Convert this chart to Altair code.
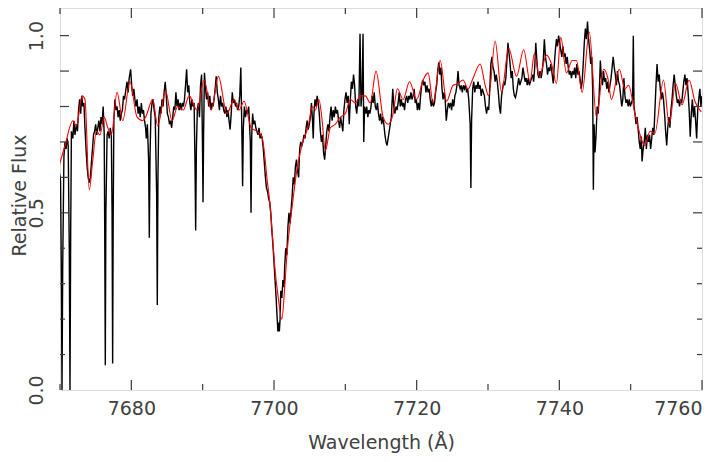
import altair as alt
import pandas as pd

# Observed spectrum (wavelength in Angstrom, relative flux)
obs_points = [
    (7669.8, 0.58), (7669.95, 0.61), (7670.08, 0.59), (7670.2, 0.30), (7670.28, 0.00), (7670.38, 0.35),
    (7670.55, 0.66), (7670.7, 0.70), (7670.85, 0.68), (7671.0, 0.71), (7671.15, 0.69), (7671.3, 0.40),
    (7671.4, 0.00), (7671.5, 0.45), (7671.6, 0.73), (7671.8, 0.71), (7671.95, 0.76), (7672.1, 0.72),
    (7672.3, 0.75), (7672.45, 0.73), (7672.6, 0.79), (7672.75, 0.82), (7672.9, 0.78), (7673.05, 0.83),
    (7673.2, 0.80), (7673.35, 0.81), (7673.5, 0.74), (7673.65, 0.68), (7673.8, 0.63), (7673.95, 0.60),
    (7674.1, 0.585), (7674.25, 0.60), (7674.4, 0.64), (7674.55, 0.68), (7674.7, 0.72), (7674.85, 0.73),
    (7675.0, 0.75), (7675.15, 0.72), (7675.3, 0.74), (7675.45, 0.76), (7675.6, 0.73), (7675.75, 0.77),
    (7675.9, 0.75), (7676.05, 0.80), (7676.2, 0.72), (7676.27, 0.45), (7676.35, 0.07), (7676.43, 0.50),
    (7676.6, 0.72), (7676.75, 0.73), (7676.9, 0.71), (7677.05, 0.74), (7677.2, 0.72), (7677.3, 0.50),
    (7677.38, 0.075), (7677.46, 0.50), (7677.55, 0.76), (7677.7, 0.82), (7677.85, 0.79), (7678.0, 0.80),
    (7678.15, 0.77), (7678.3, 0.79), (7678.45, 0.76), (7678.6, 0.78), (7678.75, 0.79), (7678.9, 0.83),
    (7679.05, 0.82), (7679.25, 0.85), (7679.4, 0.87), (7679.55, 0.84), (7679.7, 0.88), (7679.9, 0.905),
    (7680.05, 0.86), (7680.2, 0.83), (7680.35, 0.85), (7680.5, 0.82), (7680.65, 0.80), (7680.8, 0.82),
    (7680.95, 0.78), (7681.1, 0.80), (7681.25, 0.77), (7681.4, 0.81), (7681.55, 0.78), (7681.7, 0.79),
    (7681.85, 0.76), (7682.0, 0.74), (7682.1, 0.71), (7682.25, 0.75), (7682.42, 0.65), (7682.52, 0.43),
    (7682.62, 0.66), (7682.75, 0.78), (7682.9, 0.81), (7683.05, 0.82), (7683.2, 0.79), (7683.35, 0.77),
    (7683.55, 0.55), (7683.64, 0.24), (7683.73, 0.60), (7683.85, 0.77), (7684.0, 0.80), (7684.15, 0.78),
    (7684.3, 0.82), (7684.45, 0.80), (7684.6, 0.84), (7684.75, 0.87), (7684.9, 0.83), (7685.05, 0.78),
    (7685.2, 0.77), (7685.35, 0.75), (7685.5, 0.76), (7685.65, 0.74), (7685.8, 0.77), (7685.95, 0.80),
    (7686.1, 0.79), (7686.25, 0.84), (7686.4, 0.80), (7686.55, 0.82), (7686.7, 0.79), (7686.85, 0.81),
    (7687.0, 0.79), (7687.15, 0.81), (7687.3, 0.80), (7687.45, 0.82), (7687.6, 0.86), (7687.75, 0.905),
    (7687.9, 0.84), (7688.05, 0.86), (7688.2, 0.81), (7688.35, 0.79), (7688.5, 0.82), (7688.65, 0.80),
    (7688.8, 0.81), (7688.92, 0.65), (7689.02, 0.45), (7689.12, 0.68), (7689.25, 0.79), (7689.4, 0.81),
    (7689.55, 0.77), (7689.7, 0.86), (7689.85, 0.89), (7689.97, 0.70), (7690.05, 0.53), (7690.13, 0.72),
    (7690.25, 0.895), (7690.4, 0.85), (7690.55, 0.82), (7690.7, 0.84), (7690.85, 0.80), (7691.0, 0.83),
    (7691.15, 0.79), (7691.3, 0.81), (7691.45, 0.80), (7691.6, 0.82), (7691.75, 0.85), (7691.9, 0.885),
    (7692.05, 0.84), (7692.2, 0.82), (7692.35, 0.79), (7692.5, 0.83), (7692.65, 0.80), (7692.8, 0.81),
    (7692.95, 0.79), (7693.1, 0.78), (7693.25, 0.80), (7693.4, 0.77), (7693.55, 0.79), (7693.7, 0.76),
    (7693.85, 0.735), (7694.0, 0.78), (7694.15, 0.84), (7694.3, 0.81), (7694.45, 0.82), (7694.6, 0.80),
    (7694.75, 0.81), (7694.9, 0.79), (7695.05, 0.80), (7695.2, 0.83), (7695.35, 0.91), (7695.48, 0.75),
    (7695.6, 0.575), (7695.7, 0.74), (7695.85, 0.80), (7696.0, 0.77), (7696.15, 0.79), (7696.3, 0.78),
    (7696.45, 0.80), (7696.68, 0.70), (7696.78, 0.50), (7696.88, 0.72), (7697.0, 0.78), (7697.15, 0.75),
    (7697.3, 0.76), (7697.45, 0.74), (7697.6, 0.73), (7697.75, 0.72), (7697.9, 0.74), (7698.05, 0.71),
    (7698.2, 0.72), (7698.35, 0.71), (7698.5, 0.68), (7698.65, 0.64), (7698.8, 0.60), (7698.95, 0.57),
    (7699.1, 0.56), (7699.25, 0.54), (7699.4, 0.53), (7699.55, 0.50), (7699.7, 0.45), (7699.85, 0.41),
    (7700.0, 0.36), (7700.15, 0.31), (7700.3, 0.26), (7700.45, 0.20), (7700.55, 0.165), (7700.65, 0.19),
    (7700.75, 0.165), (7700.85, 0.20), (7700.95, 0.28), (7701.1, 0.26), (7701.25, 0.31), (7701.4, 0.29),
    (7701.5, 0.35), (7701.65, 0.40), (7701.8, 0.38), (7701.95, 0.46), (7702.1, 0.50), (7702.25, 0.47),
    (7702.4, 0.51), (7702.55, 0.55), (7702.7, 0.60), (7702.85, 0.58), (7703.0, 0.63), (7703.15, 0.65),
    (7703.3, 0.62), (7703.45, 0.60), (7703.6, 0.68), (7703.75, 0.70), (7703.9, 0.69), (7704.05, 0.70),
    (7704.2, 0.72), (7704.35, 0.71), (7704.5, 0.74), (7704.65, 0.76), (7704.8, 0.735), (7704.95, 0.75),
    (7705.1, 0.77), (7705.25, 0.81), (7705.4, 0.76), (7705.5, 0.71), (7705.6, 0.78), (7705.75, 0.82),
    (7705.9, 0.80), (7706.05, 0.83), (7706.2, 0.81), (7706.35, 0.78), (7706.5, 0.73), (7706.65, 0.70),
    (7706.8, 0.72), (7706.95, 0.67), (7707.1, 0.65), (7707.25, 0.69), (7707.4, 0.73), (7707.55, 0.75),
    (7707.7, 0.73), (7707.85, 0.77), (7708.0, 0.80), (7708.15, 0.76), (7708.3, 0.79), (7708.45, 0.77),
    (7708.6, 0.80), (7708.75, 0.78), (7708.9, 0.79), (7709.05, 0.76), (7709.2, 0.74), (7709.35, 0.77),
    (7709.5, 0.75), (7709.65, 0.73), (7709.8, 0.79), (7709.95, 0.82), (7710.1, 0.84), (7710.25, 0.81),
    (7710.4, 0.83), (7710.55, 0.75), (7710.7, 0.82), (7710.85, 0.87), (7711.0, 0.85), (7711.15, 0.89),
    (7711.3, 0.86), (7711.45, 0.80), (7711.6, 0.78), (7711.75, 0.82), (7711.9, 0.80), (7712.06, 1.005),
    (7712.2, 0.80), (7712.35, 0.84), (7712.48, 1.005), (7712.58, 0.70), (7712.7, 0.80), (7712.85, 0.78),
    (7713.0, 0.80), (7713.15, 0.77), (7713.3, 0.79), (7713.45, 0.78), (7713.6, 0.80), (7713.75, 0.83),
    (7713.9, 0.81), (7714.05, 0.84), (7714.2, 0.80), (7714.35, 0.79), (7714.5, 0.81), (7714.65, 0.78),
    (7714.8, 0.76), (7714.95, 0.78), (7715.1, 0.75), (7715.25, 0.77), (7715.4, 0.75), (7715.55, 0.72),
    (7715.7, 0.70), (7715.85, 0.69), (7716.0, 0.71), (7716.15, 0.73), (7716.3, 0.75), (7716.45, 0.77),
    (7716.65, 0.85), (7716.8, 0.80), (7716.95, 0.78), (7717.1, 0.80), (7717.25, 0.79), (7717.4, 0.81),
    (7717.55, 0.84), (7717.7, 0.80), (7717.85, 0.82), (7718.0, 0.80), (7718.15, 0.81), (7718.3, 0.79),
    (7718.45, 0.82), (7718.6, 0.83), (7718.75, 0.81), (7718.9, 0.83), (7719.05, 0.82), (7719.2, 0.84),
    (7719.35, 0.82), (7719.5, 0.83), (7719.65, 0.85), (7719.8, 0.81), (7719.95, 0.82), (7720.1, 0.79),
    (7720.25, 0.81), (7720.4, 0.79), (7720.55, 0.83), (7720.7, 0.86), (7720.85, 0.875), (7721.0, 0.86),
    (7721.15, 0.87), (7721.3, 0.84), (7721.45, 0.86), (7721.6, 0.84), (7721.75, 0.85), (7721.9, 0.82),
    (7722.05, 0.80), (7722.2, 0.82), (7722.35, 0.80), (7722.5, 0.81), (7722.65, 0.84), (7722.8, 0.86),
    (7722.95, 0.90), (7723.1, 0.925), (7723.25, 0.89), (7723.4, 0.91), (7723.55, 0.85), (7723.7, 0.82),
    (7723.85, 0.84), (7724.0, 0.82), (7724.15, 0.76), (7724.3, 0.79), (7724.45, 0.81), (7724.6, 0.80),
    (7724.75, 0.81), (7724.9, 0.79), (7725.05, 0.82), (7725.2, 0.80), (7725.35, 0.83), (7725.5, 0.84),
    (7725.65, 0.86), (7725.8, 0.90), (7725.95, 0.86), (7726.1, 0.85), (7726.25, 0.86), (7726.4, 0.84),
    (7726.55, 0.86), (7726.7, 0.85), (7726.85, 0.86), (7727.0, 0.84), (7727.15, 0.85), (7727.3, 0.82),
    (7727.5, 0.75), (7727.6, 0.57), (7727.7, 0.76), (7727.85, 0.85), (7728.0, 0.87), (7728.15, 0.84),
    (7728.3, 0.86), (7728.45, 0.85), (7728.6, 0.87), (7728.75, 0.85), (7728.9, 0.86), (7729.05, 0.83),
    (7729.2, 0.85), (7729.35, 0.84), (7729.5, 0.83), (7729.65, 0.80), (7729.8, 0.78), (7729.95, 0.80),
    (7730.1, 0.79), (7730.25, 0.85), (7730.4, 0.92), (7730.55, 0.94), (7730.7, 0.91), (7730.85, 0.90),
    (7731.0, 0.87), (7731.15, 0.89), (7731.3, 0.87), (7731.45, 0.84), (7731.6, 0.80), (7731.75, 0.78),
    (7731.9, 0.83), (7732.05, 0.85), (7732.2, 0.87), (7732.35, 0.86), (7732.5, 0.88), (7732.65, 0.93),
    (7732.8, 0.98), (7732.95, 0.95), (7733.1, 0.92), (7733.25, 0.88), (7733.4, 0.90), (7733.55, 0.85),
    (7733.7, 0.83), (7733.85, 0.825), (7734.0, 0.84), (7734.15, 0.86), (7734.3, 0.88), (7734.45, 0.86),
    (7734.6, 0.87), (7734.75, 0.88), (7734.9, 0.91), (7735.05, 0.89), (7735.2, 0.87), (7735.35, 0.88),
    (7735.5, 0.86), (7735.65, 0.88), (7735.8, 0.86), (7735.95, 0.87), (7736.1, 0.88), (7736.25, 0.89),
    (7736.4, 0.87), (7736.55, 0.91), (7736.7, 0.98), (7736.85, 0.93), (7737.0, 0.89), (7737.15, 0.88),
    (7737.3, 0.90), (7737.45, 0.88), (7737.6, 0.90), (7737.75, 0.93), (7737.9, 0.99), (7738.05, 0.94),
    (7738.2, 0.92), (7738.35, 0.89), (7738.5, 0.91), (7738.65, 0.90), (7738.8, 0.92), (7739.0, 0.89),
    (7739.15, 0.865), (7739.3, 0.92), (7739.45, 0.96), (7739.6, 0.99), (7739.75, 0.97), (7739.9, 1.0),
    (7740.05, 0.98), (7740.2, 0.96), (7740.35, 0.94), (7740.5, 0.97), (7740.65, 0.94), (7740.8, 0.95),
    (7740.95, 0.92), (7741.1, 0.94), (7741.25, 0.91), (7741.4, 0.89), (7741.55, 0.90), (7741.7, 0.88),
    (7741.85, 0.90), (7742.0, 0.89), (7742.15, 0.91), (7742.3, 0.88), (7742.45, 0.92), (7742.6, 0.89),
    (7742.75, 0.90), (7742.9, 0.88), (7743.05, 0.85), (7743.2, 0.87), (7743.35, 0.92), (7743.5, 0.98),
    (7743.65, 1.02), (7743.8, 0.99), (7743.95, 1.04), (7744.1, 0.99), (7744.25, 0.96), (7744.4, 0.92),
    (7744.55, 0.94), (7744.67, 0.85), (7744.77, 0.565), (7744.87, 0.75), (7745.0, 0.67), (7745.15, 0.72),
    (7745.3, 0.80), (7745.45, 0.78), (7745.6, 0.84), (7745.75, 0.93), (7745.9, 0.88), (7746.05, 0.86),
    (7746.2, 0.90), (7746.35, 0.87), (7746.5, 0.88), (7746.65, 0.85), (7746.8, 0.87), (7746.95, 0.84),
    (7747.1, 0.86), (7747.25, 0.88), (7747.4, 0.91), (7747.55, 0.94), (7747.7, 0.91), (7747.85, 0.89),
    (7748.0, 0.86), (7748.15, 0.90), (7748.3, 0.87), (7748.45, 0.86), (7748.6, 0.83), (7748.75, 0.80),
    (7748.9, 0.82), (7749.05, 0.88), (7749.2, 0.83), (7749.35, 0.81), (7749.5, 0.82), (7749.65, 0.80),
    (7749.8, 0.82), (7749.95, 0.80), (7750.1, 0.81), (7750.27, 0.82), (7750.37, 1.0), (7750.47, 0.80),
    (7750.6, 0.78), (7750.75, 0.75), (7750.9, 0.77), (7751.05, 0.735), (7751.2, 0.70), (7751.35, 0.68),
    (7751.5, 0.715), (7751.6, 0.645), (7751.75, 0.68), (7751.9, 0.70), (7752.05, 0.74), (7752.2, 0.68),
    (7752.35, 0.72), (7752.5, 0.70), (7752.65, 0.72), (7752.8, 0.68), (7752.95, 0.71), (7753.1, 0.74),
    (7753.25, 0.72), (7753.4, 0.79), (7753.55, 0.86), (7753.7, 0.92), (7753.85, 0.87), (7754.0, 0.89),
    (7754.15, 0.85), (7754.3, 0.82), (7754.45, 0.84), (7754.6, 0.82), (7754.75, 0.78), (7754.9, 0.73),
    (7755.05, 0.69), (7755.2, 0.74), (7755.35, 0.77), (7755.5, 0.74), (7755.65, 0.79), (7755.8, 0.82),
    (7755.95, 0.86), (7756.1, 0.89), (7756.25, 0.86), (7756.4, 0.83), (7756.55, 0.81), (7756.7, 0.82),
    (7756.85, 0.80), (7757.0, 0.82), (7757.15, 0.81), (7757.3, 0.84), (7757.45, 0.87), (7757.6, 0.89),
    (7757.75, 0.86), (7757.9, 0.88), (7758.05, 0.84), (7758.2, 0.79), (7758.35, 0.715), (7758.5, 0.78),
    (7758.65, 0.82), (7758.8, 0.77), (7758.95, 0.80), (7759.1, 0.76), (7759.25, 0.71), (7759.4, 0.79),
    (7759.55, 0.82), (7759.7, 0.85), (7759.85, 0.80), (7760.0, 0.83),
]

# Synthetic (model) spectrum
model_points = [
    (7669.7, 0.62), (7670.7, 0.69), (7671.8, 0.76), (7672.3, 0.745), (7673.1, 0.83), (7673.5, 0.82),
    (7674.1, 0.565), (7674.6, 0.65), (7675.1, 0.73), (7675.6, 0.72), (7676.2, 0.77), (7676.7, 0.74),
    (7677.2, 0.72), (7678.0, 0.84), (7678.8, 0.76), (7679.8, 0.87), (7680.8, 0.77), (7681.6, 0.76),
    (7682.0, 0.77), (7683.0, 0.82), (7683.7, 0.745), (7684.8, 0.845), (7685.7, 0.76), (7686.5, 0.80),
    (7687.3, 0.79), (7688.1, 0.83), (7689.2, 0.79), (7690.2, 0.875), (7691.2, 0.79), (7692.2, 0.885),
    (7693.4, 0.78), (7694.4, 0.82), (7695.1, 0.79), (7695.8, 0.815), (7696.8, 0.74), (7697.6, 0.73),
    (7698.3, 0.715), (7698.6, 0.68), (7699.0, 0.60), (7699.4, 0.53), (7699.8, 0.43), (7700.1, 0.35),
    (7700.6, 0.26), (7701.1, 0.20), (7701.5, 0.29), (7701.8, 0.38), (7702.5, 0.51), (7703.2, 0.62),
    (7703.9, 0.69), (7704.8, 0.745), (7705.4, 0.80), (7705.8, 0.79), (7706.3, 0.82), (7706.7, 0.77),
    (7707.2, 0.675), (7707.9, 0.74), (7708.6, 0.75), (7709.3, 0.77), (7710.0, 0.78), (7710.7, 0.82),
    (7711.4, 0.81), (7712.1, 0.83), (7712.8, 0.83), (7713.5, 0.81), (7714.3, 0.90), (7715.3, 0.77),
    (7716.0, 0.75), (7716.7, 0.78), (7717.3, 0.85), (7718.1, 0.82), (7719.0, 0.87), (7720.0, 0.82),
    (7720.9, 0.875), (7721.6, 0.895), (7722.3, 0.81), (7723.3, 0.93), (7724.2, 0.815), (7725.1, 0.86),
    (7725.8, 0.865), (7726.5, 0.875), (7727.2, 0.85), (7727.9, 0.88), (7728.9, 0.92), (7729.6, 0.86),
    (7730.1, 0.83), (7731.0, 0.985), (7731.9, 0.84), (7732.9, 0.965), (7734.0, 0.885), (7735.0, 0.96),
    (7735.9, 0.87), (7736.5, 0.95), (7737.2, 0.885), (7738.2, 0.945), (7738.9, 0.92), (7739.6, 0.865),
    (7740.2, 0.995), (7741.0, 0.895), (7741.8, 0.93), (7742.4, 0.93), (7743.2, 0.84), (7744.2, 1.01),
    (7745.2, 0.77), (7746.2, 0.905), (7746.8, 0.88), (7747.3, 0.82), (7748.4, 0.905), (7749.2, 0.85),
    (7749.7, 0.86), (7750.6, 0.78), (7752.0, 0.69), (7752.7, 0.73), (7753.4, 0.725), (7754.6, 0.875),
    (7755.4, 0.75), (7756.3, 0.865), (7757.2, 0.805), (7758.2, 0.875), (7759.0, 0.815), (7759.9, 0.785),
]

x_major_ticks = [7680, 7700, 7720, 7740, 7760]
x_minor_ticks = [7670, 7690, 7710, 7730, 7750]
y_label_ticks = [0.0, 0.5, 1.0]
y_long_ticks = [0.5, 0.6, 0.7, 0.8, 0.9, 1.0]
y_short_ticks = [0.1, 0.2, 0.3, 0.4]

obs = pd.DataFrame(obs_points, columns=["wave", "flux"])
model = pd.DataFrame(model_points, columns=["wave", "flux"])

W, H = 642, 382
FONT = "DejaVu Sans"
TXT = "#404040"
FRAME = "#3a3a3a"

xscale = alt.Scale(domain=[7670, 7760], nice=False, zero=False)
yscale = alt.Scale(domain=[0, 1.078], nice=False, zero=False)

xaxis = alt.Axis(values=x_major_ticks, format="d", grid=False, ticks=False, tickSize=0,
                 domain=False, labelFont=FONT, labelFontSize=19, labelColor=TXT,
                 labelPadding=9, labelBaseline="top", labelFontWeight="normal",
                 title="Wavelength (Å)", titleFont=FONT, titleFontSize=19,
                 titleFontWeight="normal", titleColor=TXT, titleBaseline="alphabetic",
                 titleY=58, titleX=W / 2)
yaxis = alt.Axis(values=y_label_ticks, format=".1f", grid=False, ticks=False, tickSize=0,
                 domain=False, labelFont=FONT, labelFontSize=19, labelColor=TXT,
                 labelAngle=270, labelAlign="center", labelBaseline="bottom",
                 labelPadding=14, labelFontWeight="normal",
                 title="Relative Flux", titleFont=FONT, titleFontSize=19,
                 titleFontWeight="normal", titleColor=TXT, titleAngle=270,
                 titleAlign="center", titleBaseline="alphabetic", titleX=-35, titleY=187)

obs_line = alt.Chart(obs).mark_line(color="#000000", strokeWidth=1.4, clip=True).encode(
    x=alt.X("wave:Q", scale=xscale, axis=xaxis),
    y=alt.Y("flux:Q", scale=yscale, axis=yaxis),
)
model_line = alt.Chart(model).mark_line(color="#ff0000", strokeWidth=1.1, clip=True,
                                        interpolate="monotone").encode(
    x=alt.X("wave:Q", scale=xscale),
    y=alt.Y("flux:Q", scale=yscale),
)

def xticks(vals, length):
    d = pd.DataFrame({"v": vals})
    base = alt.Chart(d).mark_rule(color=FRAME, strokeWidth=1.2)
    bottom = base.encode(x=alt.X("v:Q", scale=xscale), y=alt.value(H), y2=alt.value(H - length))
    top = base.encode(x=alt.X("v:Q", scale=xscale), y=alt.value(0), y2=alt.value(length))
    return bottom + top

def yticks(vals, length):
    d = pd.DataFrame({"v": vals})
    base = alt.Chart(d).mark_rule(color=FRAME, strokeWidth=1.2)
    left = base.encode(y=alt.Y("v:Q", scale=yscale), x=alt.value(0), x2=alt.value(length))
    right = base.encode(y=alt.Y("v:Q", scale=yscale), x=alt.value(W), x2=alt.value(W - length))
    return left + right

chart = alt.layer(
    obs_line, model_line,
    xticks(x_major_ticks, 10), xticks(x_minor_ticks, 6),
    yticks(y_long_ticks, 9), yticks(y_short_ticks, 5),
).properties(
    width=W, height=H,
    autosize=alt.AutoSizeParams(type="none"),
    padding={"left": 52, "top": 0, "right": 17, "bottom": 64},
).configure_view(
    stroke=FRAME, strokeWidth=1.4
).configure(background="white")

chart.save("out.html", embed_options={"renderer": "svg", "actions": False})
